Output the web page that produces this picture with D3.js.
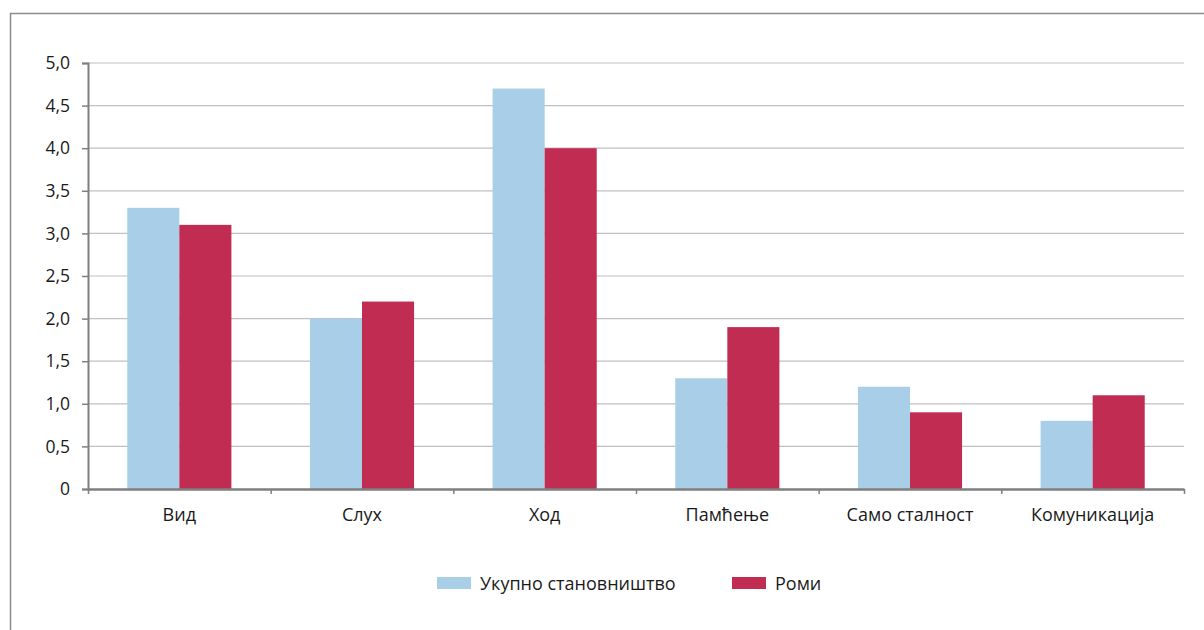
<!DOCTYPE html>
<html><head><meta charset="utf-8">
<script src="https://cdn.jsdelivr.net/npm/d3@7"></script>
<style>body{margin:0;background:#fff}svg{display:block}text{font-family:"Open Sans","Noto Sans",sans-serif;fill:#1a1a1a}</style>
</head><body>
<svg id="c" width="1204" height="630"></svg>
<script>
const categories = ["Вид","Слух","Ход","Памћење","Само сталност","Комуникација"];
const seriesNames = ["Укупно становништво","Роми"];
const totalPop = [3.3,2.0,4.7,1.3,1.2,0.8];
const roma = [3.1,2.2,4.0,1.9,0.9,1.1];
const yTicks = [0,0.5,1.0,1.5,2.0,2.5,3.0,3.5,4.0,4.5,5.0];
const colors = ["#a8cee8","#c02c52"];

const svg = d3.select("#c");
svg.append("rect").attr("x",10.5).attr("y",13.5).attr("width",1200).attr("height",640)
  .attr("fill","none").attr("stroke","#8c8c8c").attr("stroke-width",1.5);

const L=88,R=1184,T=63,B=489;
const x = d3.scaleBand().domain(categories).range([L,R]).paddingInner(0.43).paddingOuter(0.215);
const x1 = d3.scaleBand().domain(seriesNames).range([0,x.bandwidth()]);
const y = d3.scaleLinear().domain([0,5]).range([B,T]);
const fmt = v => v===0 ? "0" : d3.format(".1f")(v).replace(".",",");

// grid
svg.append("g").selectAll("line").data(yTicks.filter(v=>v>0)).join("line")
  .attr("x1",L).attr("x2",R).attr("y1",d=>y(d)).attr("y2",d=>y(d))
  .attr("stroke","#c0c0c0").attr("stroke-width",1.2);

// bars
const data = categories.map((c,i)=>({c, vals:[totalPop[i],roma[i]]}));
const g = svg.append("g");
data.forEach(d=>{
  d.vals.forEach((v,j)=>{
    g.append("rect").attr("x",x(d.c)+x1(seriesNames[j])).attr("width",x1.bandwidth())
      .attr("y",y(v)).attr("height",B-y(v)).attr("fill",colors[j]);
  });
});

// y axis
const ya = svg.append("g").attr("transform",`translate(${L},0)`)
  .call(d3.axisLeft(y).tickValues(yTicks).tickFormat(fmt).tickSize(6).tickPadding(12));
ya.select(".domain").attr("stroke","#7f7f7f").attr("stroke-width",2);
ya.selectAll(".tick line").attr("stroke","#7f7f7f").attr("stroke-width",1.5);
ya.selectAll("text").style("font-size","17.5px").attr("fill","#1a1a1a");

// x axis
const xs = d3.scaleLinear().domain([0,categories.length]).range([L,R]);
const xa = svg.append("g").attr("transform",`translate(0,${B})`)
  .call(d3.axisBottom(xs).tickValues(d3.range(categories.length+1)).tickFormat("").tickSize(5).tickSizeOuter(0));
xa.select(".domain").attr("stroke","#7f7f7f").attr("stroke-width",2.5);
xa.selectAll(".tick line").attr("stroke","#7f7f7f").attr("stroke-width",1.5);
svg.append("g").selectAll("text").data(categories).join("text")
  .attr("x",d=>x(d)+x.bandwidth()/2).attr("y",521).attr("text-anchor","middle")
  .style("font-size","18px").text(d=>d);

// legend
const legX=[437,732];
seriesNames.forEach((s,i)=>{
  svg.append("rect").attr("x",legX[i]).attr("y",577).attr("width",34).attr("height",12).attr("fill",colors[i]);
  svg.append("text").attr("x",legX[i]+43).attr("y",590).style("font-size","18px").text(s);
});
</script>
</body></html>
